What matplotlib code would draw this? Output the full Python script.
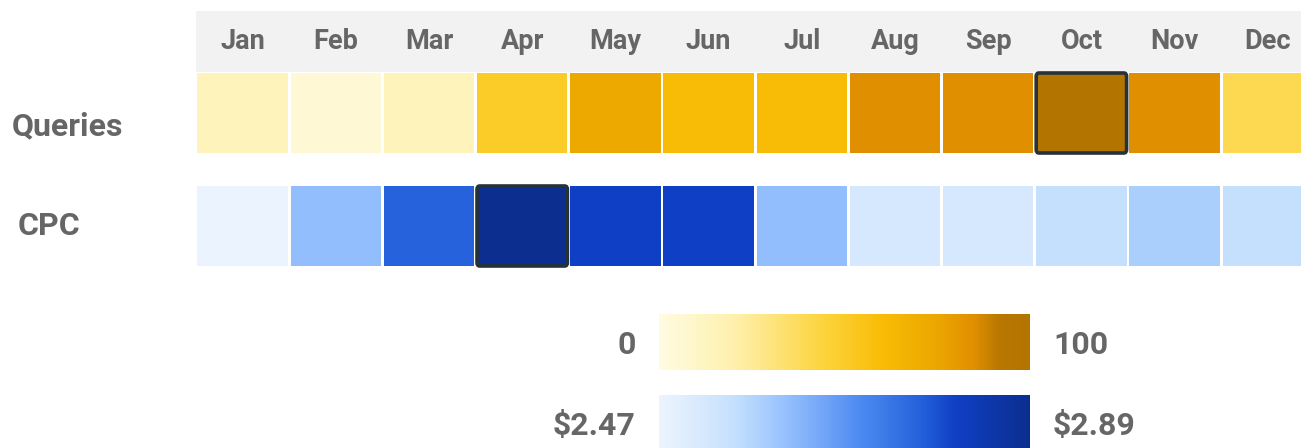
import matplotlib.pyplot as plt
import matplotlib.colors as mcolors
from matplotlib.colorbar import ColorbarBase
from matplotlib.patches import Rectangle, FancyBboxPatch

plt.rcParams['font.family'] = ['Roboto', 'DejaVu Sans']

months = ['Jan', 'Feb', 'Mar', 'Apr', 'May', 'Jun', 'Jul', 'Aug', 'Sep', 'Oct', 'Nov', 'Dec']
row_names = ['Queries', 'CPC']
queries = [15, 5, 15, 50, 73, 60, 60, 85, 85, 100, 85, 40]
cpc = [2.47, 2.617, 2.764, 2.89, 2.806, 2.806, 2.617, 2.52, 2.52, 2.554, 2.588, 2.554]
q_range = (0, 100)
cpc_range = (2.47, 2.89)
q_labels = ['0', '100']
cpc_labels = ['$2.47', '$2.89']

TEXT = '#666666'
W, H = 1301, 448

yellow = mcolors.LinearSegmentedColormap.from_list('q', [
    (0, '#fffbe1'), (0.2, '#fef0ad'), (0.45, '#fcd33a'), (0.6, '#f9bc06'),
    (0.75, '#eca600'), (0.85, '#e08f00'), (0.92, '#b87700'), (1, '#b37400')])
blue = mcolors.LinearSegmentedColormap.from_list('c', [
    (0, '#ebf4fe'), (0.12, '#d5e8fd'), (0.2, '#c4e0fd'), (0.28, '#aacffd'),
    (0.35, '#93befd'), (0.55, '#4a88f0'), (0.7, '#2563dc'), (0.8, '#0f3fc4'),
    (1, '#0b2e8f')])
q_norm = mcolors.Normalize(*q_range)
c_norm = mcolors.Normalize(*cpc_range)

fig = plt.figure(figsize=(W / 100, H / 100), dpi=100)

# main axes over whole figure: x in column units, y in row units
x0, pitch = 196, 93.2
y0, rpitch = 73, 113
ax = fig.add_axes([0, 0, 1, 1])
ax.set_xlim(-x0 / pitch, (W - x0) / pitch)
ax.set_ylim((H - y0) / rpitch, -y0 / rpitch)
ax.axis('off')

# header band
hdr_top, hdr_bot = (11 - y0) / rpitch, (72 - y0) / rpitch
ax.add_patch(Rectangle((0, hdr_top), 12, hdr_bot - hdr_top, color='#f2f2f2', lw=0))
for i, m in enumerate(months):
    ax.text(i + 0.5, (hdr_top + hdr_bot) / 2, m, ha='center', va='center',
            fontsize=19.5, fontweight='bold', color=TEXT)

gap = 2.8 / pitch
ch = 80 / rpitch
rows = [(queries, yellow, q_norm), (cpc, blue, c_norm)]
for r, (vals, cmap, norm) in enumerate(rows):
    vmax = max(vals)
    for i, v in enumerate(vals):
        ax.add_patch(Rectangle((i + gap / 2, r), 1 - gap, ch,
                               color=cmap(norm(v)), lw=0))
    k = vals.index(vmax)
    ax.add_patch(FancyBboxPatch((k + gap / 2, r), 1 - gap, ch,
                                boxstyle='round,pad=0,rounding_size=0.03',
                                fc='none', ec='#263238', lw=2.6))

ax.text((12 - x0) / pitch, (126 - y0) / rpitch, row_names[0], ha='left', va='center',
        fontsize=23, fontweight='bold', color=TEXT)
ax.text((18 - x0) / pitch, (226 - y0) / rpitch, row_names[1], ha='left', va='center',
        fontsize=23, fontweight='bold', color=TEXT)

# legend colour bars
for (cmap, norm, labels, top) in [(yellow, q_norm, q_labels, 314), (blue, c_norm, cpc_labels, 395)]:
    cax = fig.add_axes([659 / W, 1 - (top + 56) / H, 371 / W, 56 / H])
    cb = ColorbarBase(cax, cmap=cmap, norm=norm, orientation='horizontal')
    cb.outline.set_visible(False)
    cax.set_xticks([])
    cax.set_yticks([])
    yc = 1 - (top + 31) / H
    fig.text(636 / W, yc, labels[0], ha='right', va='center', fontsize=23,
             fontweight='bold', color=TEXT)
    fig.text(1053 / W, yc, labels[1], ha='left', va='center', fontsize=23,
             fontweight='bold', color=TEXT)

fig.savefig('out.png', dpi=100)
